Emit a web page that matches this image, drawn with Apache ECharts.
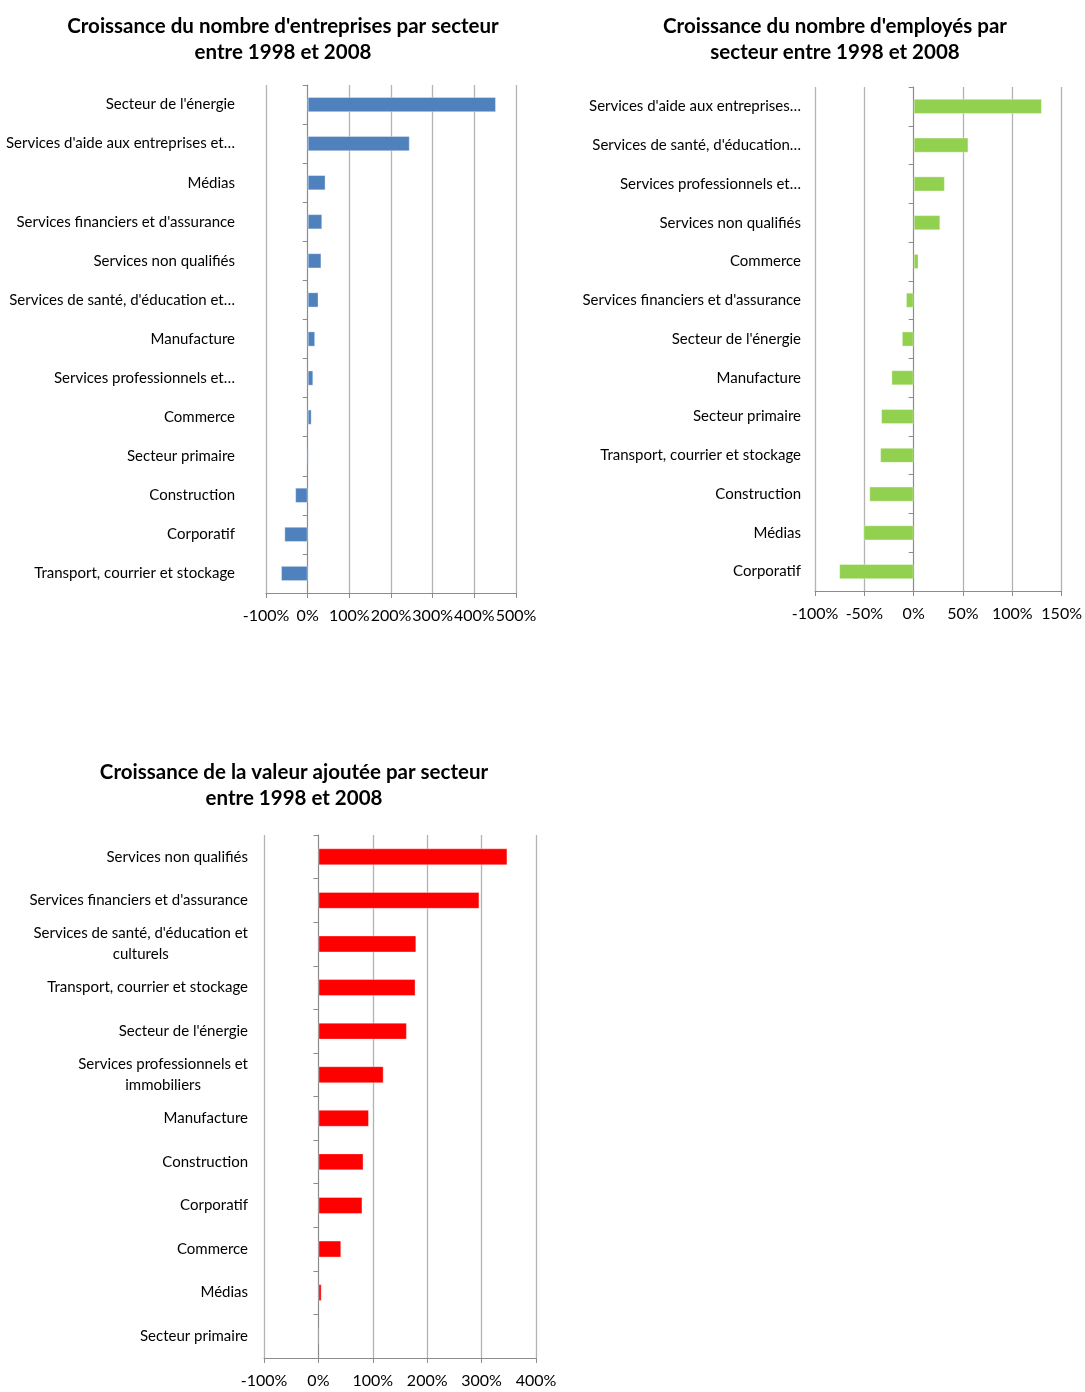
<!DOCTYPE html>
<html>
<head>
<meta charset="utf-8">
<script src="https://cdn.jsdelivr.net/npm/echarts@6/dist/echarts.min.js"></script>
<style>
  html, body { margin: 0; padding: 0; background: #fff; }
  #chart { width: 1085px; height: 1392px; }
</style>
</head>
<body>
<div id="chart"></div>
<script>
// Croissance 1998-2008 : entreprises, employés, valeur ajoutée
const entCategories = ["Secteur de l'énergie", "Services d'aide aux entreprises et…", 'Médias',
  "Services financiers et d'assurance", 'Services non qualifiés', "Services de santé, d'éducation et…",
  'Manufacture', 'Services professionnels et…', 'Commerce', 'Secteur primaire', 'Construction',
  'Corporatif', 'Transport, courrier et stockage'];
const entValues = [452, 245, 43, 35, 33, 26, 18, 13.5, 9.6, 3, -30, -56, -64];

const empCategories = ["Services d'aide aux entreprises…", "Services de santé, d'éducation…",
  'Services professionnels et…', 'Services non qualifiés', 'Commerce',
  "Services financiers et d'assurance", "Secteur de l'énergie", 'Manufacture', 'Secteur primaire',
  'Transport, courrier et stockage', 'Construction', 'Médias', 'Corporatif'];
const empValues = [130, 55.5, 31.6, 27, 5, -7.8, -12, -22.6, -33, -34, -45, -51, -75.5];

const vaCategories = ['Services non qualifiés', "Services financiers et d'assurance",
  "Services de santé, d'éducation et\nculturels", 'Transport, courrier et stockage',
  "Secteur de l'énergie", 'Services professionnels et\nimmobiliers', 'Manufacture', 'Construction',
  'Corporatif', 'Commerce', 'Médias', 'Secteur primaire'];
const vaValues = [347.5, 296, 180, 178.6, 162.7, 120, 93, 83, 81, 42, 6, -2];

const titles = [
  "Croissance du nombre d'entreprises par secteur\nentre 1998 et 2008",
  "Croissance du nombre d'employés par\nsecteur entre 1998 et 2008",
  "Croissance de la valeur ajoutée par secteur\nentre 1998 et 2008"
];

const FONT = 'Lato';
const gridLine = '#b3b3b3';
const axisGray = '#8c8c8c';

// un label multi-ligne : lignes centrées entre elles, bloc aligné à droite
function centeredLabel (v) {
  return v.split('\n').map(l => '{c|' + l + '}').join('\n');
}

function valueAxis (grid, min, max, interval) {
  return {
    type: 'value', gridIndex: grid, min: min, max: max, interval: interval,
    axisLine: { show: true, onZero: false, lineStyle: { color: axisGray } },
    axisTick: { show: true, length: 5, lineStyle: { color: axisGray } },
    splitLine: { show: true, lineStyle: { color: gridLine, width: 1.3 } },
    axisLabel: { formatter: '{value}%', color: '#000', fontFamily: FONT, fontSize: 16, margin: 15 }
  };
}

function labelAxis (grid, cats, margin, rich) {
  const ax = {
    type: 'category', gridIndex: grid, data: cats, inverse: true, position: 'left',
    axisLine: { show: false, onZero: false },
    axisTick: { show: false },
    axisLabel: { color: '#000', fontFamily: FONT, fontSize: 15, margin: margin, interval: 0 }
  };
  if (rich) {
    ax.axisLabel.formatter = centeredLabel;
    ax.axisLabel.rich = { c: { align: 'center', fontFamily: FONT, fontSize: 15, color: '#000', lineHeight: 21 } };
  }
  return ax;
}

function zeroAxis (grid, cats) {
  return {
    type: 'category', gridIndex: grid, data: cats, inverse: true, position: 'left',
    axisLine: { show: true, onZero: true, lineStyle: { color: axisGray } },
    axisTick: { show: true, inside: false, length: 5, lineStyle: { color: axisGray } },
    axisLabel: { show: false }
  };
}

function barSeries (idx, data, color) {
  return {
    type: 'bar', xAxisIndex: idx, yAxisIndex: idx * 2, data: data, barWidth: '39%',
    itemStyle: { color: color, borderColor: 'rgba(255,255,255,0.35)', borderWidth: 1 },
    silent: true, animation: false
  };
}

const titleStyle = { fontFamily: FONT, fontSize: 20.5, fontWeight: 'bold', color: '#000', lineHeight: 26 };

const option = {
  backgroundColor: '#fff',
  animation: false,
  title: [
    { text: titles[0], left: 278, top: 8, textAlign: 'center', textStyle: titleStyle },
    { text: titles[1], left: 830, top: 8, textAlign: 'center', textStyle: titleStyle },
    { text: titles[2], left: 289, top: 754, textAlign: 'center', textStyle: titleStyle }
  ],
  grid: [
    { left: 266, top: 85, width: 250, height: 508 },
    { left: 815, top: 87, width: 248, height: 504 },
    { left: 264, top: 835, width: 272, height: 523 }
  ],
  xAxis: [
    valueAxis(0, -100, 500, 100),
    valueAxis(1, -100, 150, 50),
    valueAxis(2, -100, 400, 100)
  ],
  yAxis: [
    labelAxis(0, entCategories, 31, false),
    zeroAxis(0, entCategories),
    labelAxis(1, empCategories, 14, false),
    zeroAxis(1, empCategories),
    labelAxis(2, vaCategories, 16, true),
    zeroAxis(2, vaCategories)
  ],
  series: [
    barSeries(0, entValues, '#4f81bd'),
    barSeries(1, empValues, '#92d050'),
    barSeries(2, vaValues, '#ff0000')
  ]
};

const chart = echarts.init(document.getElementById('chart'));
chart.setOption(option);
</script>
</body>
</html>
